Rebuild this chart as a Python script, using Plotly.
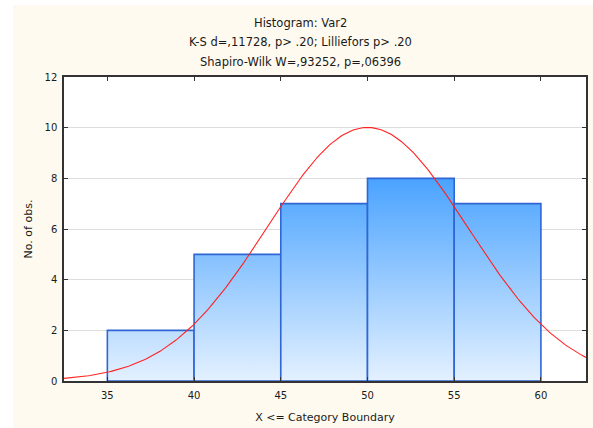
import numpy as np
import plotly.graph_objects as go

# Data
bin_edges = [35, 40, 45, 50, 55, 60]
counts = [2, 5, 7, 8, 7]
fit_mean = 50.0
fit_sd = 5.78
x_ticks = [35, 40, 45, 50, 55, 60]
y_ticks = [0, 2, 4, 6, 8, 10, 12]
title_lines = ["Histogram: Var2",
               "K-S d=,11728, p> .20; Lilliefors p> .20",
               "Shapiro-Wilk W=,93252, p=,06396"]

x_range = [32.5, 62.6]
y_range = [0, 12]

fig = go.Figure()

for i, c in enumerate(counts):
    x0, x1 = bin_edges[i], bin_edges[i + 1]
    fig.add_trace(go.Scatter(
        x=[x0, x0, x1, x1, x0], y=[0, c, c, 0, 0],
        mode="lines", fill="toself",
        line=dict(color="#2f66d4", width=1.6),
        fillgradient=dict(type="vertical", start=0, stop=8,
                          colorscale=[[0, "#e4f1ff"], [1, "#4aa3ff"]]),
        hoverinfo="skip", showlegend=False))

n_total = sum(counts)
bw = bin_edges[1] - bin_edges[0]
xs = np.linspace(x_range[0], x_range[1], 300)
ys = n_total * bw / (fit_sd * np.sqrt(2 * np.pi)) * np.exp(-0.5 * ((xs - fit_mean) / fit_sd) ** 2)
fig.add_trace(go.Scatter(x=xs, y=ys, mode="lines",
                         line=dict(color="#ff2222", width=1.1),
                         hoverinfo="skip", showlegend=False))

font_family = "DejaVu Sans, Liberation Sans, Arial, sans-serif"
txt_color = "#1a1a1a"
annotations = []
for k, t in enumerate(title_lines):
    annotations.append(dict(text=t, xref="paper", yref="paper",
                            x=(300 - 64) / 522, y=(381 - (22.5 + 19.5 * k)) / 304,
                            showarrow=False, xanchor="center", yanchor="middle",
                            font=dict(family=font_family, size=11.5, color=txt_color)))

fig.update_layout(
    width=593, height=428,
    margin=dict(l=64, r=7, t=77, b=47, autoexpand=False),
    paper_bgcolor="#fffaef",
    plot_bgcolor="white",
    annotations=annotations,
    shapes=[
        dict(type="rect", xref="paper", yref="paper", x0=-0.2, x1=(13 - 64) / 522,
             y0=-0.3, y1=1.4, fillcolor="white", line_width=0, layer="below"),
        dict(type="rect", xref="paper", yref="paper", x0=-0.2, x1=1.1,
             y0=(381 - 5) / 304, y1=1.4, fillcolor="white", line_width=0, layer="below"),
    ],
    xaxis=dict(range=x_range, tickvals=x_ticks, showgrid=False, zeroline=False,
               showline=True, linecolor="#333", linewidth=1.5, mirror="ticks",
               ticks="inside", ticklen=4, tickcolor="#333", automargin=False,
               ticklabelstandoff=4,
               tickfont=dict(family=font_family, size=10, color=txt_color),
               title=dict(text="X <= Category Boundary", standoff=14,
                          font=dict(family=font_family, size=11, color=txt_color))),
    yaxis=dict(range=y_range, tickvals=y_ticks, showgrid=True, gridcolor="#dddddd",
               gridwidth=1, zeroline=False, automargin=False,
               showline=True, linecolor="#333", linewidth=1.5, mirror="ticks",
               ticks="inside", ticklen=4, tickcolor="#333",
               ticklabelstandoff=3,
               tickfont=dict(family=font_family, size=10, color=txt_color),
               title=dict(text="No. of obs.", standoff=10,
                          font=dict(family=font_family, size=11, color=txt_color))),
)

fig.write_html("out.html", config={"displayModeBar": False},
               post_script="document.body.style.margin='0px';")
